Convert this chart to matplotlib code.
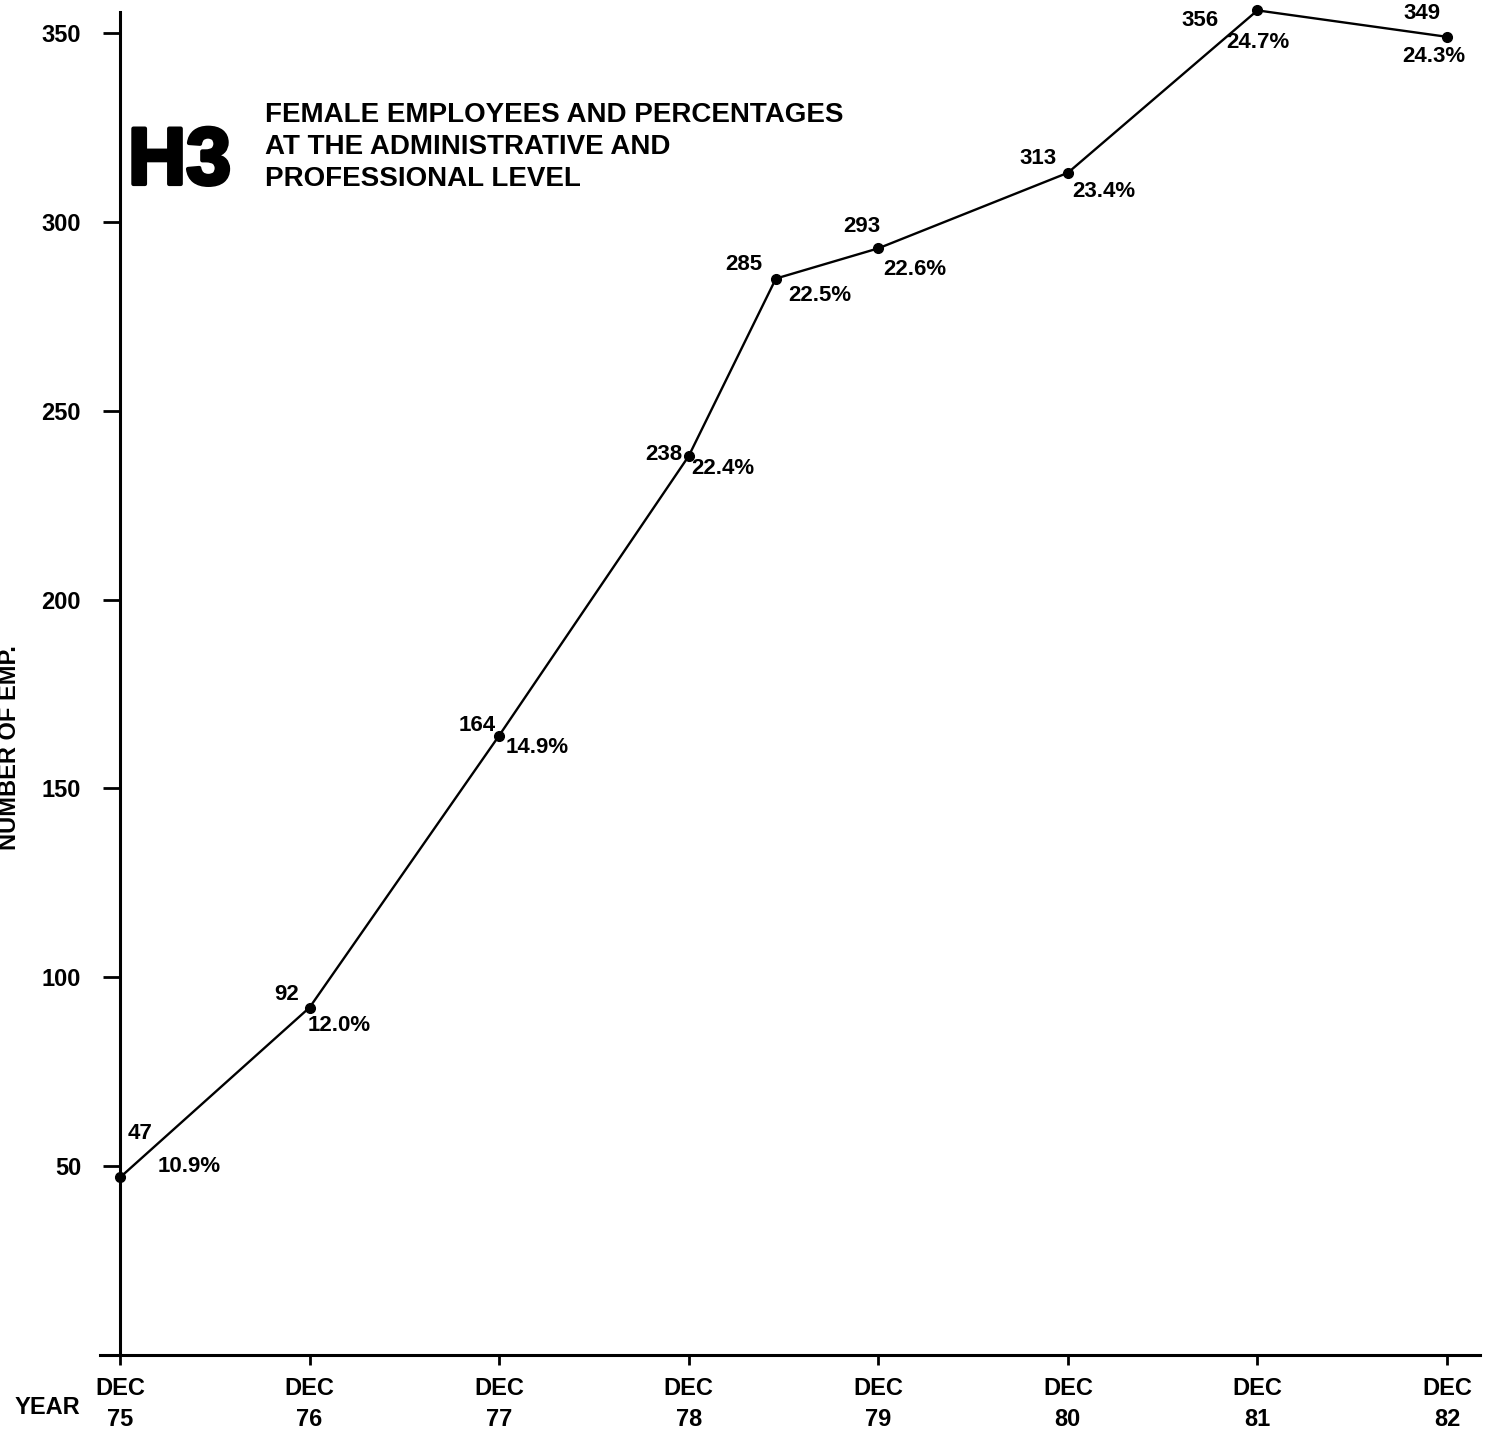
import matplotlib

matplotlib.use("Agg")

import matplotlib.patheffects as path_effects
import matplotlib.pyplot as plt


OUTPUT_FILE = "out.png"

# data
YEARS = [75, 76, 77, 78, 78.46, 79, 80, 81, 82]
EMPLOYEES = [47, 92, 164, 238, 285, 293, 313, 356, 349]
PERCENTAGES = ["10.9%", "12.0%", "14.9%", "22.4%", "22.5%", "22.6%", "23.4%", "24.7%", "24.3%"]

TICK_YEARS = [75, 76, 77, 78, 79, 80, 81, 82]
TICK_LABELS = [f"DEC\n{year}" for year in TICK_YEARS]
Y_TICKS = [50, 100, 150, 200, 250, 300, 350]

# label offsets in pixels (count label, percentage label)
COUNT_OFFSETS = [(20, 44), (-23, 13), (-22, 10), (-25, 2), (-32, 14), (-16, 22), (-30, 14), (-57, -10), (-25, 23)]
PERCENT_OFFSETS = [(69, 11), (30, -18), (38, -12), (34, -12), (44, -17), (37, -21), (36, -19), (0, -32), (-13, -20)]

FONT = "Liberation Sans"


def main() -> None:
    """Rebuild the H3 chart of female employees."""

    plt.rcParams["font.family"] = [FONT, "DejaVu Sans"]

    figure = plt.figure(figsize=(14.87, 14.32), dpi=100)

    # axes: left edge 100px, right 1480px, bottom at 1355px, top at 0
    axis = figure.add_axes([100 / 1487, 77 / 1432, 1380 / 1487, 1355 / 1432])

    axis.set_xlim(75 - 20 / 189.57, 75 + 1360 / 189.57)
    axis.set_ylim(0, 1355 / 3.777)

    axis.plot(
        YEARS,
        EMPLOYEES,
        color="black",
        linewidth=1.7,
        marker="o",
        markersize=7,
        clip_on=False,
    )

    for year, count, percent, count_offset, percent_offset in zip(
        YEARS,
        EMPLOYEES,
        PERCENTAGES,
        COUNT_OFFSETS,
        PERCENT_OFFSETS,
        strict=True,
    ):
        axis.annotate(
            str(count),
            (year, count),
            xytext=count_offset,
            textcoords="offset pixels",
            ha="center",
            va="center",
            fontsize=16,
            fontweight="bold",
        )
        axis.annotate(
            percent,
            (year, count),
            xytext=percent_offset,
            textcoords="offset pixels",
            ha="center",
            va="center",
            fontsize=16,
            fontweight="bold",
        )

    for side in ("top", "right"):
        axis.spines[side].set_visible(False)

    axis.spines["left"].set_position(("data", 75))
    axis.spines["left"].set_bounds(0, 355.5)
    axis.spines["left"].set_linewidth(2.2)
    axis.spines["bottom"].set_linewidth(2.2)

    axis.set_yticks(Y_TICKS)
    axis.set_yticklabels([str(tick) for tick in Y_TICKS], fontsize=17, fontweight="bold")
    axis.tick_params(axis="y", direction="out", length=12, width=2, pad=16)

    axis.set_xticks(TICK_YEARS)
    axis.set_xticklabels(TICK_LABELS, fontsize=17, fontweight="bold", linespacing=1.45)
    axis.tick_params(axis="x", direction="out", length=7, width=2, pad=9)

    figure.text(
        15 / 1487,
        1 - 1407 / 1432,
        "YEAR",
        fontsize=17,
        fontweight="bold",
        ha="left",
        va="center",
    )

    figure.text(
        10 / 1487,
        1 - 748 / 1432,
        "NUMBER OF EMP.",
        fontsize=17,
        fontweight="bold",
        rotation=90,
        ha="center",
        va="center",
    )

    heading = figure.text(
        128 / 1487,
        1 - 163 / 1432,
        "H3",
        fontsize=58,
        fontweight="bold",
        ha="left",
        va="center",
    )
    heading.set_path_effects(
        [path_effects.withStroke(linewidth=3, foreground="black")]
    )

    figure.text(
        265 / 1487,
        1 - 147 / 1432,
        "FEMALE EMPLOYEES AND PERCENTAGES\nAT THE ADMINISTRATIVE AND\nPROFESSIONAL LEVEL",
        fontsize=20,
        fontweight="bold",
        ha="left",
        va="center",
        linespacing=1.3,
    )

    figure.savefig(OUTPUT_FILE, dpi=100, facecolor="white")


if __name__ == "__main__":
    main()
